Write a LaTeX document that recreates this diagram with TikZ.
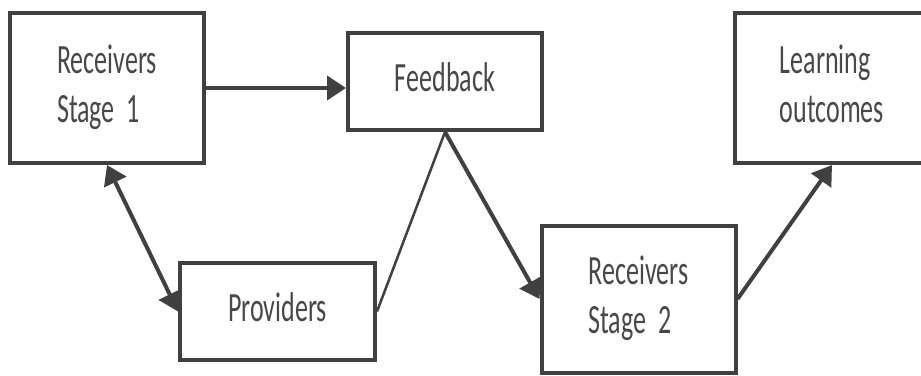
\documentclass[tikz,border=0pt]{standalone}
\usepackage{fontspec}
\setmainfont{Carlito}
\usepackage{graphicx}
\usetikzlibrary{arrows.meta}
\definecolor{edge}{HTML}{404040}
\definecolor{txt}{HTML}{484848}
\newcommand{\lbl}[1]{\scalebox{1}[1.6]{\fontsize{26}{31}\selectfont\begin{tabular}{@{}l@{}}#1\end{tabular}}}
\tikzset{
  box/.style={draw=edge, line width=4pt, rectangle, fill=white, text=txt, inner sep=0pt, minimum width=194pt},
  conn/.style={draw=edge, line width=4pt, -{Triangle[length=19pt,width=24pt]}},
  biconn/.style={draw=edge, line width=4pt, {Triangle[length=19pt,width=24pt]}-{Triangle[length=19pt,width=24pt]}},
  thin/.style={draw=edge, line width=2.5pt}
}
\begin{document}
\begin{tikzpicture}[x=1pt,y=-1pt]
\useasboundingbox (0,0) rectangle (921,375);
\clip (0,0) rectangle (921,375);
\fill[white] (0,0) rectangle (921,375);
\node[box, minimum height=150pt] (r1) at (107,88) {\lbl{Receivers\\Stage\ \ 1}};
\node[box, minimum height=97pt] (fb) at (445,81.5) {\lbl{Feedback}};
\node[box, minimum height=150pt] (lo) at (832,88) {\lbl{Learning\\outcomes}};
\node[box, minimum height=97pt, minimum width=195pt] (pr) at (277.5,311.5) {\lbl{Providers}};
\node[box, minimum height=147pt] (r2) at (638.5,299) {\lbl{Receivers\\Stage\ \ 2}};
\draw[conn] (r1.east) -- (r1.east -| fb.west);
\draw[biconn] (r1.south) -- (pr.west);
\draw[thin] (fb.south) -- (pr.east);
\draw[conn] (fb.south) -- (r2.west);
\draw[conn] (r2.east) -- (lo.south);
\end{tikzpicture}
\end{document}
